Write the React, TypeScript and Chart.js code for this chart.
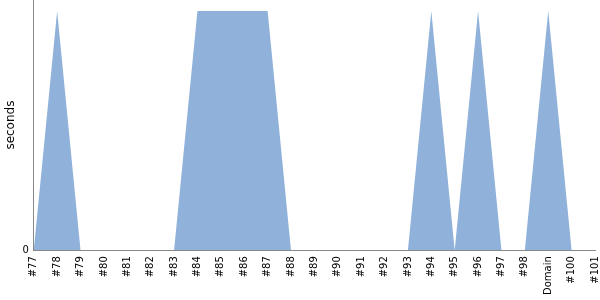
import React, { useEffect, useRef } from "react";
import { Chart, registerables } from "chart.js";

Chart.register(...registerables);

const categories = ["#77","#78","#79","#80","#81","#82","#83","#84","#85","#86","#87","#88","#89","#90","#91","#92","#93","#94","#95","#96","#97","#98","Domain","#100","#101"];
const seconds = [0,1,0,0,0,0,0,1,1,1,1,0,0,0,0,0,0,1,0,1,0,0,1,0,0];
const yTicks = [0];

export default function App() {
  const ref = useRef<HTMLCanvasElement>(null);
  useEffect(() => {
    document.body.style.margin = "0";
    const chart = new Chart(ref.current!, {
      type: "line",
      data: {
        labels: categories,
        datasets: [{
          data: seconds,
          fill: "origin",
          backgroundColor: "rgb(143,177,218)",
          borderColor: "rgb(143,177,218)",
          borderWidth: 0,
          pointRadius: 0,
          tension: 0,
        }],
      },
      options: {
        animation: false,
        responsive: false,
        layout: { padding: 0 },
        plugins: { legend: { display: false }, tooltip: { enabled: false } },
        scales: {
          x: {
            offset: false,
            grid: { display: false, drawTicks: true, tickLength: 3 },
            border: { color: "#888", width: 1 },
            ticks: {
              autoSkip: false,
              maxRotation: 90,
              minRotation: 90,
              color: "#000",
              font: { family: "DejaVu Sans", size: 10 },
              padding: 3,
            },
          },
          y: {
            min: 0,
            max: 1.046,
            grid: { display: false, tickLength: 3 },
            border: { color: "#888", width: 1 },
            afterBuildTicks: (axis: any) => {
              axis.ticks = yTicks.map((v) => ({ value: v }));
            },
            ticks: {
              color: "#000",
              font: { family: "DejaVu Sans", size: 10 },
              padding: 2,
            },
            title: {
              display: true,
              text: "seconds",
              color: "#000",
              font: { family: "DejaVu Sans", size: 12 },
              padding: { top: 4, bottom: 2 },
            },
          },
        },
      },
    });
    return () => chart.destroy();
  }, []);
  return (
    <div style={{ width: 600, height: 300, overflow: "hidden", position: "relative" }}>
      <canvas ref={ref} width={610} height={306} style={{ display: "block", position: "absolute", left: 0, top: -8 }} />
    </div>
  );
}
